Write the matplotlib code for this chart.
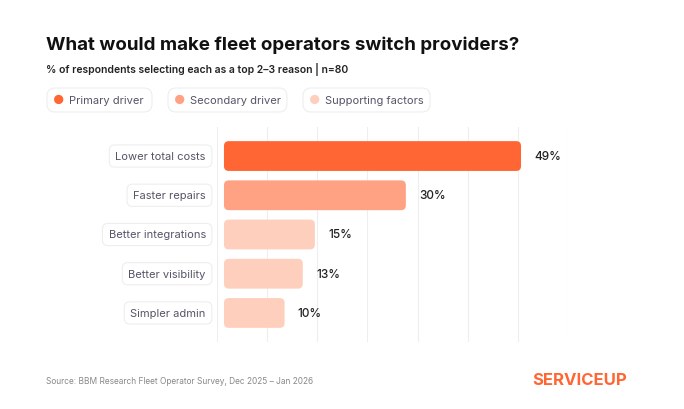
import matplotlib
matplotlib.use("Agg")
import matplotlib.pyplot as plt
from matplotlib.patches import FancyBboxPatch

categories = ["Lower total costs", "Faster repairs", "Better integrations", "Better visibility", "Simpler admin"]
values = [49, 30, 15, 13, 10]
groups = ["Primary driver", "Secondary driver", "Supporting factors", "Supporting factors", "Supporting factors"]
group_colors = {"Primary driver": "#FF6633", "Secondary driver": "#FFA283", "Supporting factors": "#FFCFBE"}

plt.rcParams['font.family'] = ['Inter', 'DejaVu Sans']
W, H = 684, 410
fig = plt.figure(figsize=(6.84, 4.10), dpi=100)
ax = fig.add_axes([217/W, 1-343/H, (568-217)/W, (343-128)/H])
ax.set_xlim(-1.15, 56.75)
ax.set_ylim(4.74, -0.74)
step = 57.9/7
for k in range(8):
    ax.axvline(-1.15 + k*step, color="#EEEEEE", lw=0.8, zorder=0)
for s in ax.spines.values():
    s.set_visible(False)
ax.set_xticks([]); ax.set_yticks([])

h = 0.76
for i, (c, v, g) in enumerate(zip(categories, values, groups)):
    ax.add_patch(FancyBboxPatch((0, i - h/2), v, h, boxstyle="round,pad=0,rounding_size=0.8",
                                mutation_aspect=6.06/39.3, fc=group_colors[g], ec="none", zorder=2))
    ax.text(v + 2.2, i, f"{v}%", va="center", ha="left", fontsize=8.5, color="#222222", fontweight="medium")
    ax.text(-3.0, i, c, va="center", ha="right", fontsize=8, color="#555566",
            bbox=dict(boxstyle="round,pad=0.55,rounding_size=0.5", fc="white", ec="#EEEEEE", lw=0.8))

fig.text(46/W, 1-45/H, "What would make fleet operators switch providers?", fontsize=13.5,
         fontweight="bold", color="#111111", va="center")
fig.text(46/W, 1-69/H, "% of respondents selecting each as a top 2–3 reason | n=80", fontsize=7.5,
         fontweight="semibold", color="#222222", va="center")

leg_items = [("Primary driver", 47, 152), ("Secondary driver", 168, 287), ("Supporting factors", 303, 430)]
for name, x0, x1 in leg_items:
    fig.patches.append(FancyBboxPatch((x0/W, 1-113/H), (x1-x0)/W, 24/H,
                                      boxstyle="round,pad=0,rounding_size=0.012", mutation_aspect=W/H,
                                      fc="white", ec="#EEEEEE", lw=0.8, transform=fig.transFigure))
    fig.text((x0+12)/W, 1-101/H, "●", fontsize=9, color=group_colors[name], va="center", ha="center")
    fig.text((x0+22)/W, 1-101/H, name, fontsize=8, color="#555566", va="center")

fig.text(46/W, 1-382/H, "Source: BBM Research Fleet Operator Survey, Dec 2025 – Jan 2026", fontsize=6,
         color="#888888", va="center")
fig.text(627/W, 1-381/H, "SERVICEUP", fontsize=12, color="#FF6633", fontweight="bold",
         va="center", ha="right")
fig.savefig("out.png", dpi=100)
